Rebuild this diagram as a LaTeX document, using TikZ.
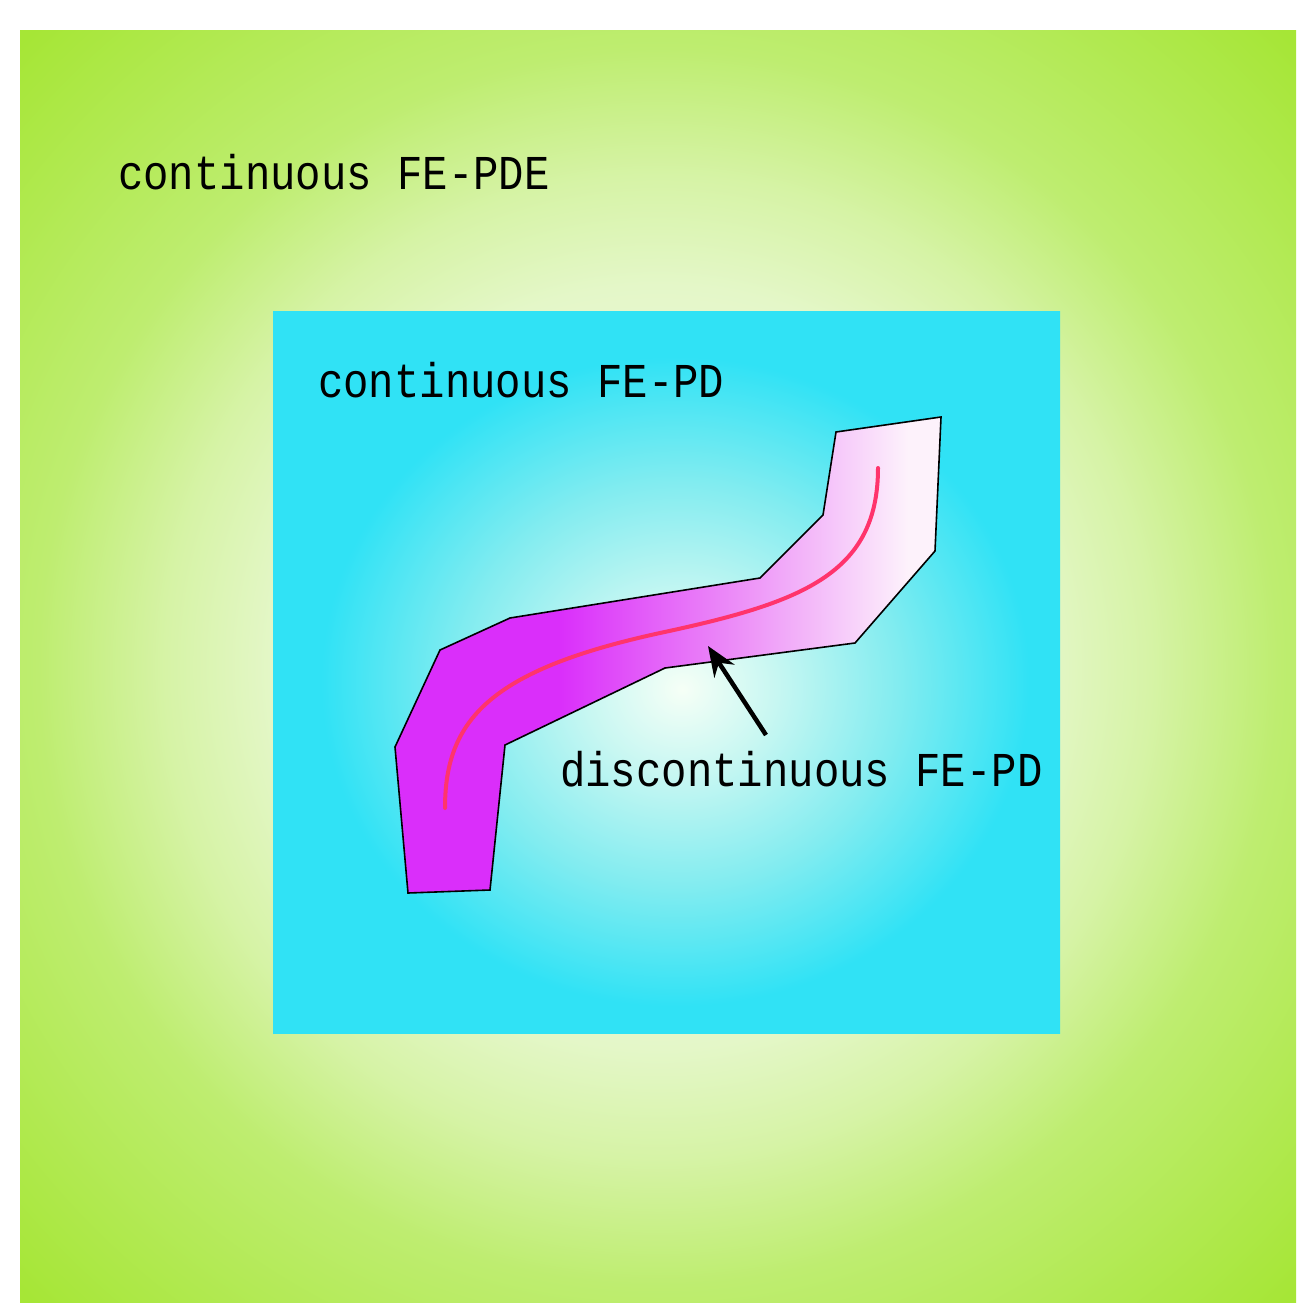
\documentclass[tikz,border=0pt]{standalone}
\usepackage{fontspec}
\usepackage{graphicx}
\usetikzlibrary{arrows.meta}
\newfontfamily\labelfont{Liberation Mono}
\definecolor{gcorner}{RGB}{166,230,54}
\definecolor{gedge}{RGB}{190,237,112}
\definecolor{gmid}{RGB}{214,243,166}
\definecolor{glight}{RGB}{228,247,200}
\definecolor{gcenter}{RGB}{246,252,236}
\definecolor{cyanfull}{RGB}{48,226,245}
\definecolor{cyanmid}{RGB}{130,236,240}
\definecolor{cyanlight}{RGB}{200,247,242}
\definecolor{cyancenter}{RGB}{246,255,246}
\definecolor{magfull}{RGB}{218,46,250}
\definecolor{magmid}{RGB}{236,140,248}
\definecolor{pinkwhite}{RGB}{253,242,251}
\definecolor{redline}{RGB}{255,52,108}
% radial shadings: 25bp = half the width of the shaded box
\pgfdeclareradialshading{greenglow}{\pgfpoint{0bp}{0bp}}{%
  color(0bp)=(gcenter); color(8bp)=(gcenter!60!glight); color(15bp)=(glight);
  color(19.3bp)=(gmid); color(24.3bp)=(gedge); color(35bp)=(gcorner); color(50bp)=(gcorner)}
\pgfdeclareradialshading{cyanglow}{\pgfpoint{1bp}{-1.2bp}}{%
  color(0bp)=(cyancenter); color(6bp)=(cyanlight); color(14bp)=(cyanmid);
  color(22.5bp)=(cyanfull); color(50bp)=(cyanfull)}
% horizontal shading: 25bp = left edge, 75bp = right edge
\pgfdeclarehorizontalshading{magfade}{100bp}{%
  color(0bp)=(magfull); color(40bp)=(magfull); color(56bp)=(magmid);
  color(72bp)=(pinkwhite); color(100bp)=(pinkwhite)}
\tikzset{
  lbl/.style={font=\labelfont\fontsize{42.3}{44}\selectfont, anchor=base west, inner sep=0pt, text=black},
  regionoutline/.style={draw=black, line width=1.6pt, line join=miter},
  pointer/.style={draw=black, line width=4.5pt, -{Stealth[length=30pt,width=24pt,inset=10pt]}}
}
\newcommand{\tall}[1]{\scalebox{1}[1.15]{#1}}
\begin{document}
\begin{tikzpicture}[x=1pt,y=-1pt]
\useasboundingbox (0,0) rectangle (1296,1303);
\fill[white] (0,0) rectangle (1296,1303);
% outer domain
\shade[shading=greenglow] (20,31) rectangle (1296,1303);
\node[lbl] (pde) at (118,189) {\tall{continuous FE-PDE}};
% inner domain
\shade[shading=cyanglow] (273,311) rectangle (1060,1033);
\node[lbl] (pd) at (318,397) {\tall{continuous FE-PD}};
% discontinuous region
\shade[shading=magfade, regionoutline]
  (836,432) -- (941,417) -- (935,551) -- (855,643) -- (665,668) -- (505,745)
  -- (490,890) -- (408,893) -- (395,747) -- (440,650) -- (510,618)
  -- (760,578) -- (823,515) -- cycle;
% crack line
\draw[redline, line width=4pt, line cap=round]
  (445,808) .. controls (445,720) and (490,670) .. (660,633)
  .. controls (800,603) and (878,575) .. (878,468);
\node[lbl] (dpd) at (560,786) {\tall{discontinuous FE-PD}};
\coordinate (arrtail) at (766,735);
\coordinate (arrtip) at (708,646);
\draw[pointer] (arrtail) -- (arrtip);
\end{tikzpicture}
\end{document}
